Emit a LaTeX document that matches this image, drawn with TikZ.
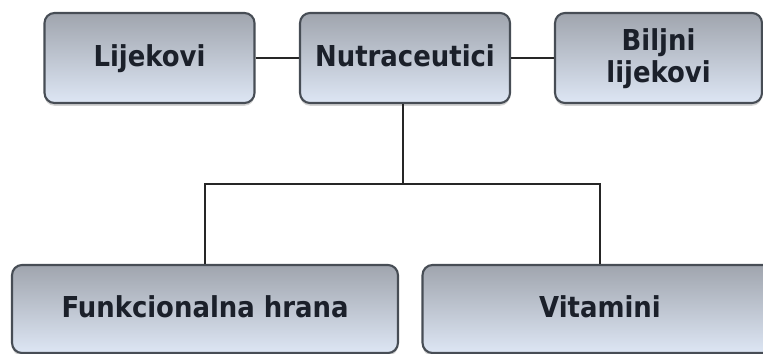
\documentclass[tikz,border=0pt]{standalone}
\usepackage{fontspec}
\setmainfont{DejaVu Sans Condensed}
\usetikzlibrary{shadows}

\definecolor{boxtop}{HTML}{A0A5AE}
\definecolor{boxbottom}{HTML}{DDE6F4}
\definecolor{boxline}{HTML}{474D55}
\definecolor{boxtext}{HTML}{1B202A}

\begin{document}
\begin{tikzpicture}
	[
		x=0.02cm, y=-0.02cm,
		box/.style = {shape=rectangle, rounded corners=0.2cm, draw=boxline, line width=1.2pt,
			top color=boxtop, bottom color=boxbottom, text=boxtext, anchor=center,
			font=\fontsize{16.4}{18.5}\selectfont\bfseries, align=center, text depth=0.25em,
			drop shadow={shadow xshift=0pt, shadow yshift=-1.6pt, opacity=0.35}},
		tbox/.style = {box, minimum width=4.2cm, minimum height=1.8cm},
		bbox/.style = {box, minimum height=1.76cm},
		link/.style = {draw=black!85, line width=1.1pt}
	]
	
	\clip (0, 0) rectangle (763, 354);
	
	\node [tbox] (lijek) at (149.5, 58) {Lijekovi};
	\node [tbox] (nutra) at (405, 58) {Nutraceutici};
	\node [tbox, minimum width=4.14cm] (biljni) at (658.5, 58) {Biljni\\lijekovi};
	
	\node [bbox, minimum width=7.72cm] (funk) at (205, 309) {Funkcionalna hrana};
	\node [bbox, minimum width=7.1cm] (vita) at (600, 309) {Vitamini};
	
	\coordinate (split) at (403, 184);
	
	\draw [link] (lijek) -- (nutra);
	\draw [link] (nutra) -- (biljni);
	\draw [link] (nutra.south -| split) -- (split);
	\draw [link] (funk.north) |- (split) -| (vita.north);
	
\end{tikzpicture}
\end{document}
